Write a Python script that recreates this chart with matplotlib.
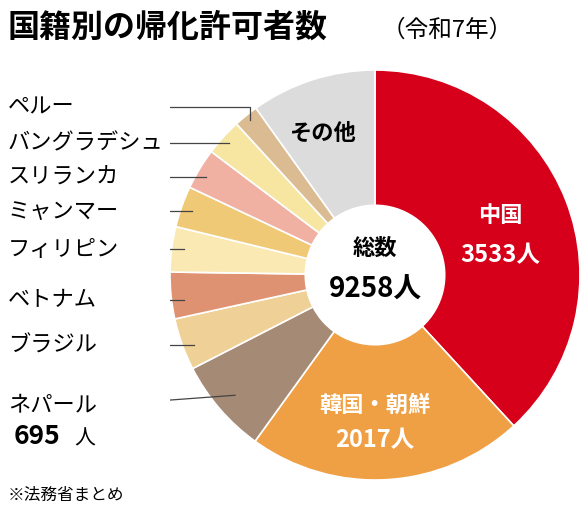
import matplotlib
matplotlib.use("Agg")
import matplotlib.pyplot as plt
import numpy as np

plt.rcParams['font.family'] = ['Noto Sans CJK JP', 'DejaVu Sans']

countries = ["中国", "韓国・朝鮮", "ネパール", "ブラジル", "ベトナム", "フィリピン",
             "ミャンマー", "スリランカ", "バングラデシュ", "ペルー", "その他"]
values = [3533, 2017, 695, 380, 340, 330, 300, 300, 270, 180, 913]
colors = ["#d7001a", "#f0a044", "#a58a76", "#efd096", "#df9272", "#fbe9b4",
          "#efc975", "#f0b0a2", "#f7e6a2", "#dabb92", "#dcdcdc"]
total = 9258
left_labels = {"ペルー": 107, "バングラデシュ": 143, "スリランカ": 177, "ミャンマー": 211,
               "フィリピン": 249, "ベトナム": 300, "ブラジル": 345, "ネパール": 405}

W, H = 588, 516
cx, cy, R = 375, 275, 205
fig = plt.figure(figsize=(W/100, H/100), dpi=100)
ax = fig.add_axes([(cx-R)/W, (H-cy-R)/H, 2*R/W, 2*R/H])

wedges, _ = ax.pie(values, colors=colors, startangle=90, counterclock=False, radius=1,
                   wedgeprops=dict(width=0.66, edgecolor='white', linewidth=1.2))
ax.set_aspect('auto')
ax.set_xlim(-1, 1); ax.set_ylim(-1, 1); ax.axis('off')

def d(px, py):
    return (px-cx)/R, (cy-py)/R

fig.canvas.draw()
rend = fig.canvas.get_renderer()
for name, w in zip(countries, wedges):
    if name in left_labels:
        py = left_labels[name]
        a = np.deg2rad((w.theta1+w.theta2)/2)
        tx, ty = d(8, py)
        t = ax.text(tx, ty, name, fontsize=16, ha='left', va='center')
        bb = t.get_window_extent(rend)
        sx = (bb.x1 + 6 - (cx - R)) / R - 1
        # endpoint: where horizontal line y=ty meets the wedge (clamped)
        ang = np.arcsin(np.clip(ty, -0.99, 0.99))
        ex = -np.cos(ang) * 0.97
        if name == "ネパール":
            ex, ey = 0.9*np.cos(a), 0.9*np.sin(a)
            ax.plot([sx, ex], [ty, ey], color='#444', lw=0.9)
        elif name == "ペルー":
            ex2, ey2 = 0.97*np.cos(a), 0.97*np.sin(a)
            ax.plot([sx, ex2, ex2], [ty, ty, ey2], color='#444', lw=0.9)
        else:
            ax.plot([sx, ex + 0.03], [ty, ty], color='#444', lw=0.9)

t1 = ax.text(*d(14, 437), "695", fontsize=19, fontweight='bold', ha='left', va='center')
ax.text(*d(74, 439), "人", fontsize=15, ha='left', va='center')

ax.text(*d(500, 215), "中国", fontsize=16, fontweight='bold', color='white', ha='center', va='center')
ax.text(*d(500, 255), "3533人", fontsize=17, fontweight='bold', color='white', ha='center', va='center')
ax.text(*d(375, 405), "韓国・朝鮮", fontsize=16, fontweight='bold', color='white', ha='center', va='center')
ax.text(*d(375, 440), "2017人", fontsize=17, fontweight='bold', color='white', ha='center', va='center')
ax.text(*d(322, 133), "その他", fontsize=16, fontweight='bold', ha='center', va='center')
ax.text(0, d(0, 248)[1], "総数", fontsize=16, fontweight='bold', ha='center', va='center')
ax.text(0, d(0, 290)[1], f"{total}人", fontsize=20, fontweight='bold', ha='center', va='center')

fig.text(8/W, 1-28/H, "国籍別の帰化許可者数", fontsize=23, fontweight='bold', ha='left', va='center')
fig.text(382/W, 1-30/H, "（令和7年）", fontsize=17, ha='left', va='center')
fig.text(8/W, 1-495/H, "※法務省まとめ", fontsize=12, ha='left', va='center')
fig.savefig("out.png", dpi=100)
